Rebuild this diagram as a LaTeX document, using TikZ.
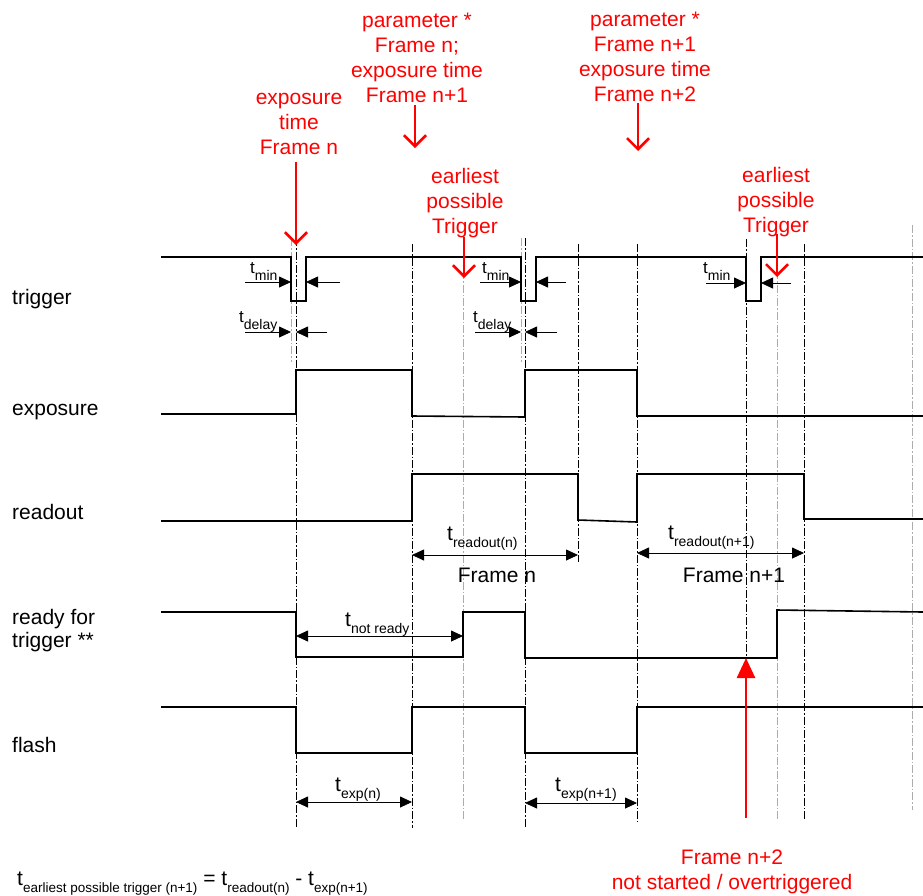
\documentclass[tikz,border=0pt]{standalone}
\usepackage{fontspec}
\setmainfont{Liberation Sans}
\usetikzlibrary{arrows.meta,positioning}

\newcommand{\lowsub}[2][14]{\raisebox{-7pt}{\fontsize{#1}{#1}\selectfont #2}}
\newcommand{\tdur}[1]{{\fontsize{21}{21}\selectfont t}\lowsub{#1}}
\newcommand{\ttrig}[1]{{\fontsize{17}{17}\selectfont t}\lowsub{#1}}

\begin{document}
\begin{tikzpicture}[x=1pt,y=-1pt,
    signal/.style={line width=1.6pt},
    marker/.style={line width=0.7pt,dash pattern=on 8pt off 2pt on 1.5pt off 2pt},
    grey marker/.style={marker,gray!65},
    dim/.style={line width=0.8pt,-{Triangle[length=12pt,width=11pt]}},
    dim both/.style={dim,{Triangle[length=12pt,width=11pt]}-{Triangle[length=12pt,width=11pt]}},
    hint/.style={red,line width=2.6pt,-{Straight Barb[length=11pt,width=22pt]}},
    alarm/.style={red,line width=2.6pt,-{Triangle[length=20pt,width=18pt]}},
    note/.style={red,align=center,inner sep=0pt,text depth=0pt,anchor=south,font=\fontsize{21}{25}\selectfont},
    sig name/.style={anchor=base west,inner sep=0pt,font=\fontsize{21}{23}\selectfont},
    tlabel/.style={anchor=base west,inner sep=0pt}]
  \useasboundingbox (0,0) rectangle (923,895);

  % time marks
  \coordinate (trig1) at (291,0);
  \coordinate (exp1) at (296,0);
  \coordinate (ro1) at (412,0);
  \coordinate (rdy1) at (463,0);
  \coordinate (trig2) at (521,0);
  \coordinate (exp2) at (525,0);
  \coordinate (ro1end) at (578,0);
  \coordinate (ro2) at (637,0);
  \coordinate (trig3) at (746,0);
  \coordinate (rdy3) at (777,0);
  \coordinate (ro2end) at (804,0);

  % marker lines
  \foreach \x/\ya/\yb in {296/238/828,412/244/828,525/238/828,578/244/562,637/244/822,746/239/658,804/244/820}
    \draw[marker] (\x,\ya) -- (\x,\yb);
  \foreach \x/\ya/\yb in {291/238/362,463/244/820,521/238/362,777/244/820,912/225/810}
    \draw[grey marker] (\x,\ya) -- (\x,\yb);

  % signal names
  \node[sig name] (trigger) at (12,304) {trigger};
  \node[sig name] (exposure) at (12,415) {exposure};
  \node[sig name] (readout) at (12,519) {readout};
  \node[sig name,anchor=south west,align=left,text depth=0pt] (ready) at (12,648) {ready for\\trigger **};
  \node[sig name] (flash) at (12,752) {flash};

  % signals
  \draw[signal] (161,257) -| (291,301) -| (306,257) -| (521,301) -| (536,257) -| (746,301) -| (761,257) -- (923,257);
  \draw[signal] (161,414) -| (296,370) -| (412,416) -- (525,417) |- (637,370) |- (923,416);
  \draw[signal] (161,521) -| (412,474) -| (578,520) -- (637,522) |- (804,474) |- (923,519);
  \draw[signal] (161,612) -| (296,657) -| (463,612) -| (525,658) -- (777,658) -- (777,610) -- (923,612);
  \draw[signal] (161,707) -| (296,753) -| (412,707) -| (525,753) -| (637,707) -- (923,707);

  % trigger timing
  \node[tlabel] (tmin1) at (250,273) {\ttrig{min}};
  \node[tlabel] (tdel1) at (239,322) {\ttrig{delay}};
  \node[tlabel] (tmin2) at (482,273) {\ttrig{min}};
  \node[tlabel] (tdel2) at (473,322) {\ttrig{delay}};
  \node[tlabel] (tmin3) at (703,273) {\ttrig{min}};
  \draw[dim] (245,282) -- (trig1 |- 0,282);
  \draw[dim] (340,282) -- (306,282);
  \draw[dim] (245,332) -- (trig1 |- 0,332);
  \draw[dim] (327,332) -- (exp1 |- 0,332);
  \draw[dim] (480,282) -- (trig2 |- 0,282);
  \draw[dim] (566,282) -- (536,282);
  \draw[dim] (475,332) -- (trig2 |- 0,332);
  \draw[dim] (557,332) -- (exp2 |- 0,332);
  \draw[dim] (706,283) -- (trig3 |- 0,283);
  \draw[dim] (791,283) -- (761,283);

  % durations
  \node[tlabel] (trd1) at (447,540) {\tdur{readout(n)}};
  \node[tlabel] (trd2) at (668,539) {\tdur{readout(n+1)}};
  \node[tlabel] (tnr) at (345,626) {\tdur{not ready}};
  \node[tlabel] (texp1) at (335,791) {\tdur{exp(n)}};
  \node[tlabel] (texp2) at (555,791) {\tdur{exp(n+1)}};
  \draw[dim both] (ro1 |- 0,555) -- (ro1end |- 0,555);
  \draw[dim both] (ro2 |- 0,553) -- (ro2end |- 0,553);
  \draw[dim both] (exp1 |- 0,636) -- (rdy1 |- 0,636);
  \draw[dim both] (exp1 |- 0,802) -- (ro1 |- 0,802);
  \draw[dim both] (exp2 |- 0,803) -- (ro2 |- 0,803);
  \node[anchor=base,inner sep=0pt,font=\fontsize{21}{21}\selectfont] (framen) at (497,582) {Frame n};
  \node[anchor=base,inner sep=0pt,font=\fontsize{21}{21}\selectfont] (framen1) at (734,582) {Frame n+1};

  % red notes
  \node[note] (expn) at (299,155) {exposure\\time\\Frame n};
  \node[note] (par1) at (417,103) {parameter *\\Frame n;\\exposure time\\Frame n+1};
  \node[note] (par2) at (645,102) {parameter *\\Frame n+1\\exposure time\\Frame n+2};
  \node[note] (early1) at (465,234) {earliest\\possible\\Trigger};
  \node[note] (early2) at (776,233) {earliest\\possible\\Trigger};
  \node[note] (over) at (732,890) {Frame n+2\\not started / overtriggered};
  \draw[hint,shorten <=7pt] ([xshift=-3pt]expn.south) -- ++(0,90);
  \draw[hint,shorten <=2pt] ([xshift=-2pt]par1.south) -- ++(0,45);
  \draw[hint,shorten <=1pt] ([xshift=-7pt]par2.south) -- ++(0,49);
  \draw[hint,shorten <=3pt] ([xshift=-1pt]early1.south) -- ++(0,44);
  \draw[hint,shorten <=1pt] ([xshift=1pt]early2.south) -- ++(0,44);
  \draw[alarm,shorten <=32pt] (over.north -| trig3) -- (trig3 |- 0,658);

  % formula
  \node[tlabel,font=\fontsize{21}{21}\selectfont] (rule) at (17,885)
    {t\lowsub[13.5]{earliest possible trigger (n+1)} = t\lowsub[13.5]{readout(n)} - t\lowsub[13.5]{exp(n+1)}};
\end{tikzpicture}
\end{document}
